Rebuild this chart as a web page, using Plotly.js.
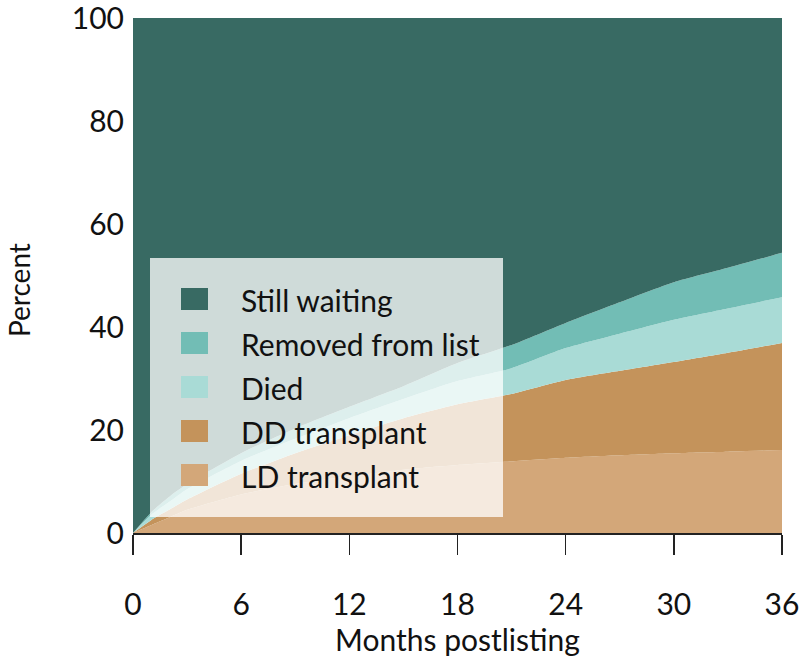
<!DOCTYPE html>
<html>
<head>
<meta charset="utf-8">
<script src="https://cdn.plot.ly/plotly-3.0.1.min.js"></script>
<style>html,body{margin:0;padding:0;background:#fff;}#chart{width:800px;height:663px;}</style>
</head>
<body>
<div id="chart"></div>
<script>
// Months postlisting
const months = [0, 1, 2, 3, 6, 9, 12, 15, 18, 21, 24, 27, 30, 33, 36];
// Percent of candidates in each state (stacked, bottom to top)
const ldTransplant = [0, 1.5, 3, 4.5, 7.5, 9.5, 11, 12.3, 13.2, 13.9, 14.6, 15.1, 15.5, 15.8, 16.1];
const ddTransplant = [0, 1, 1.5, 2, 4, 6, 8, 10, 11.8, 13.1, 15.1, 16.4, 17.7, 19.2, 20.8];
const died         = [0, 1, 1.5, 2, 2.5, 2.8, 3.3, 3.7, 4.5, 5, 6.2, 7.2, 8.2, 8.6, 8.9];
const removed      = [0, 0.5, 1, 1, 1.5, 2, 2.2, 2.5, 3.5, 4.5, 4.9, 6.1, 7.3, 7.9, 8.6];
const stillWaiting = [100, 96, 93, 90.5, 84.5, 79.7, 75.5, 71.5, 67, 63.5, 59.2, 55.2, 51.3, 48.5, 45.6];

const xTicks = [0, 6, 12, 18, 24, 30, 36];
const yTicks = [0, 20, 40, 60, 80, 100];

// legend order (top to bottom)
const legendNames = ["Still waiting", "Removed from list", "Died", "DD transplant", "LD transplant"];
const legendColors = ["#386a63", "#72bdb5", "#a9dbd6", "#c4935b", "#d3a779"];

const series = [
  {name: "LD transplant", y: ldTransplant, color: "#d3a779"},
  {name: "DD transplant", y: ddTransplant, color: "#c4935b"},
  {name: "Died", y: died, color: "#a9dbd6"},
  {name: "Removed from list", y: removed, color: "#72bdb5"},
  {name: "Still waiting", y: stillWaiting, color: "#386a63"}
];

const traces = series.map(s => ({
  type: "scatter",
  x: months,
  y: s.y,
  name: s.name,
  stackgroup: "one",
  mode: "none",
  fillcolor: s.color,
  line: {width: 0, shape: "spline", smoothing: 0.6},
  showlegend: false,
  hoverinfo: "x+y+name"
}));

// plot area in pixels
const W = 800, H = 663;
const L = 133, R = 18, T = 18, B = 130;
const pw = W - L - R, ph = H - T - B;
const px = p => (p - L) / pw;
const py = p => (H - B - p) / ph;

const FONT = "Lato, sans-serif";
const shapes = [{
  type: "rect", xref: "paper", yref: "paper",
  x0: px(150), x1: px(503), y0: py(517), y1: py(258),
  fillcolor: "rgba(255,255,255,0.76)", line: {width: 0}, layer: "above"
}];
const annotations = [];
const rowY = [299, 343, 387, 431, 475];
legendNames.forEach((n, i) => {
  shapes.push({
    type: "rect", xref: "paper", yref: "paper",
    x0: px(181), x1: px(208), y0: py(rowY[i] + 11), y1: py(rowY[i] - 11),
    fillcolor: legendColors[i], line: {width: 0}, layer: "above"
  });
  annotations.push({
    xref: "paper", yref: "paper", x: px(239), y: py(rowY[i] + 1),
    xanchor: "left", yanchor: "middle", showarrow: false,
    text: n, font: {family: FONT, size: 30, color: "#111"}
  });
});
// y-axis title
annotations.push({
  xref: "paper", yref: "paper", x: px(19), y: py(290),
  xanchor: "center", yanchor: "middle", showarrow: false, textangle: -90,
  text: "Percent", font: {family: FONT, size: 28, color: "#111"}
});

const layout = {
  width: W, height: H,
  margin: {l: L, r: R, t: T, b: B, pad: 0},
  paper_bgcolor: "#fff", plot_bgcolor: "#fff",
  font: {family: FONT, size: 30, color: "#111"},
  showlegend: false,
  xaxis: {
    range: [0, 36], tickvals: xTicks, ticktext: xTicks.map(String),
    showgrid: false, zeroline: false,
    showline: true, linecolor: "#222", linewidth: 2,
    ticks: "outside", ticklen: 20, tickwidth: 1.5, tickcolor: "#222",
    ticklabelstandoff: 24, ticklabeloverflow: "allow",
    tickfont: {size: 30},
    title: {text: "Months postlisting", font: {size: 30}, standoff: 8}
  },
  yaxis: {
    range: [0, 100], tickvals: yTicks, ticktext: yTicks.map(String),
    showgrid: false, zeroline: false, showline: false,
    ticks: "", ticklabelstandoff: 8, ticklabeloverflow: "allow",
    tickfont: {size: 30}
  },
  shapes: shapes,
  annotations: annotations
};

Plotly.newPlot("chart", traces, layout, {displayModeBar: false, staticPlot: true});
</script>
</body>
</html>
